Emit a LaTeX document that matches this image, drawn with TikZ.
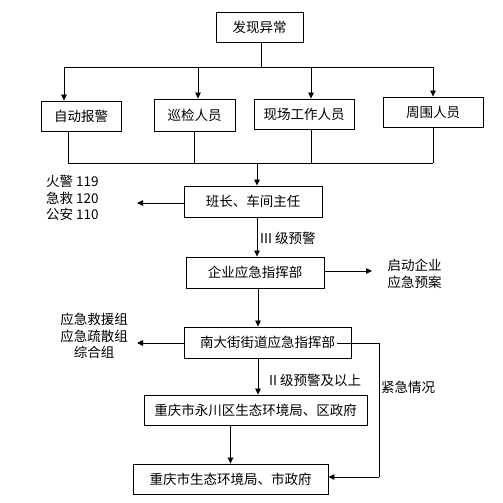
\documentclass[tikz,border=0pt]{standalone}
\usepackage{fontspec}
\setmainfont{Noto Sans CJK SC}
\usetikzlibrary{arrows.meta,calc}
\begin{document}
\begin{tikzpicture}[x=1pt,y=-1pt,
  box/.style={draw,line width=0.9pt,inner sep=0pt,font=\fontsize{13.5}{16}\selectfont},
  txt/.style={inner sep=0pt,font=\fontsize{13.5}{16.5}\selectfont},
  ln/.style={line width=0.8pt},
  arr/.style={line width=0.8pt,-{Triangle[length=6pt,width=5.5pt]}}]
\useasboundingbox (0,0) rectangle (503,503);
% boxes
\node[box,minimum width=87pt,minimum height=30pt] (top) at (259.5,27) {发现异常};
\node[box,minimum width=80pt,minimum height=30pt] (a1) at (81,116) {自动报警};
\node[box,minimum width=81pt,minimum height=32pt] (a2) at (194.5,115) {巡检人员};
\node[box,minimum width=100pt,minimum height=30pt] (a3) at (304,114) {现场工作人员};
\node[box,minimum width=100pt,minimum height=30pt] (a4) at (433,112) {周围人员};
\node[box,minimum width=138pt,minimum height=31pt] (b) at (253,201.5) {班长、车间主任};
\node[box,minimum width=138pt,minimum height=31pt] (c) at (255,272.5) {企业应急指挥部};
\node[box,minimum width=167pt,minimum height=31pt] (d) at (267.5,342.5) {南大街街道应急指挥部};
\node[box,minimum width=223pt,minimum height=30pt] (e) at (255.5,410) {重庆市永川区生态环境局、区政府};
\node[box,minimum width=195pt,minimum height=30pt] (f) at (230.5,479) {重庆市生态环境局、市政府};
% side texts
\node[txt,align=left,anchor=west] (t1) at (46,198) {火警 119\\急救 120\\公安 110};
\node[txt,align=center] (t2) at (414.5,274) {启动企业\\应急预案};
\node[txt,align=center] (t3) at (94,336) {应急救援组\\应急疏散组\\综合组};
\node[txt,anchor=west] (l1) at (260,238) {III 级预警};
\node[txt,anchor=west] (l2) at (269,380) {II 级预警及以上};
\node[txt,anchor=west] (l3) at (381,387) {紧急情况};
% coordinates
\coordinate (s) at (261,67);
\coordinate (h1) at (64,67);
\coordinate (h2) at (198,67);
\coordinate (h3) at (311,67);
\coordinate (h4) at (433,67);
\coordinate (g1) at (68,163);
\coordinate (g2) at (194,163);
\coordinate (g3) at (311,163);
\coordinate (g4) at (433,163);
\coordinate (gm) at (257,163);
\coordinate (p1) at (137,203);
\coordinate (p2) at (372,271);
\coordinate (p3) at (137,343);
\coordinate (q1) at (379,343);
\coordinate (q2) at (379,477);
% top fan-out
\draw[ln] (top.south -| s) -- (s);
\draw[ln] (h1) -- (h4);
\draw[arr] (h1) -- (h1 |- a1.north);
\draw[arr] (h2) -- (h2 |- a2.north);
\draw[arr] (h3) -- (h3 |- a3.north);
\draw[arr] (h4) -- (h4 |- a4.north);
% fan-in
\draw[ln] (a1.south -| g1) -- (g1);
\draw[ln] (a2.south -| g2) -- (g2);
\draw[ln] (a3.south -| g3) -- (g3);
\draw[ln] (a4.south -| g4) -- (g4);
\draw[ln] (g1) -- (g4);
\draw[arr] (gm) -- (gm |- b.north);
% chain
\draw[arr] (b.west |- p1) -- (p1);
\draw[arr] (b.south -| gm) -- (gm |- c.north);
\draw[arr] (c.east |- p2) -- (p2);
\draw[arr] ([xshift=3pt]c.south) -- ([xshift=3pt]c.south |- d.north);
\draw[arr] (d.west |- p3) -- (p3);
\draw[arr] ([xshift=-9.5pt]d.south) -- ([xshift=-9.5pt]d.south |- e.north);
\draw[arr] (e.south -| f.north) -- (f.north);
\draw[ln] ([xshift=-14pt]d.east |- q1) -- (q1) -- (q2);
\draw[arr] (q2) -- (q2 -| f.east);
\end{tikzpicture}
\end{document}
